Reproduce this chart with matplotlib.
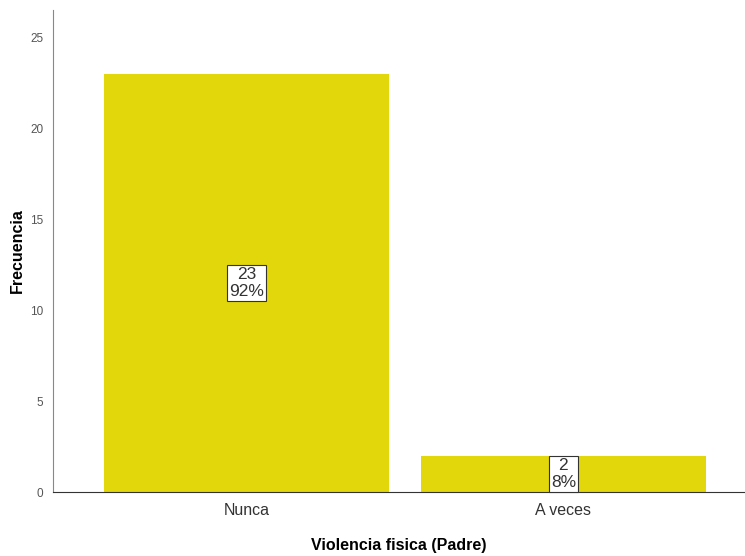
import matplotlib.pyplot as plt

categorias = ['Nunca', 'A veces']
frecuencias = [23, 2]
porcentajes = ['92%', '8%']

plt.rcParams['font.family'] = ['Liberation Sans', 'DejaVu Sans']

fig = plt.figure(figsize=(7.45, 5.56), dpi=100)
ax = fig.add_axes([0.0711, 0.1151, 0.9276, 0.867])

x = range(len(categorias))
bars = ax.bar(x, frecuencias, width=0.9, color='#e2d70b')

for xi, f, p in zip(x, frecuencias, porcentajes):
    ax.text(xi, f / 2, f'{f}\n{p}', ha='center', va='center', fontsize=12.5,
            color='#333333', linespacing=1.2,
            bbox=dict(boxstyle='square,pad=0.12', fc='white', ec='#333333', lw=0.8))

ax.set_xlim(-0.61, 1.57)
ax.set_ylim(0, 26.5)
ax.set_yticks([0, 5, 10, 15, 20, 25])
ax.set_xticks(list(x))
ax.set_xticklabels(categorias, fontsize=11.5, color='#333333')
ax.tick_params(axis='y', length=0, labelsize=8.5, labelcolor='#555555', pad=7)
ax.tick_params(axis='x', length=0, pad=8)

for s in ['top', 'right']:
    ax.spines[s].set_visible(False)
ax.spines['left'].set_color('#888888')
ax.spines['bottom'].set_color('#333333')

ax.set_xlabel('Violencia fisica (Padre)', fontsize=11.5, fontweight='bold', labelpad=14)
fig.text(17 / 745, 0.55, 'Frecuencia', rotation=90, ha='center', va='center',
         fontsize=11.5, fontweight='bold')

fig.savefig('out.png', dpi=100)
